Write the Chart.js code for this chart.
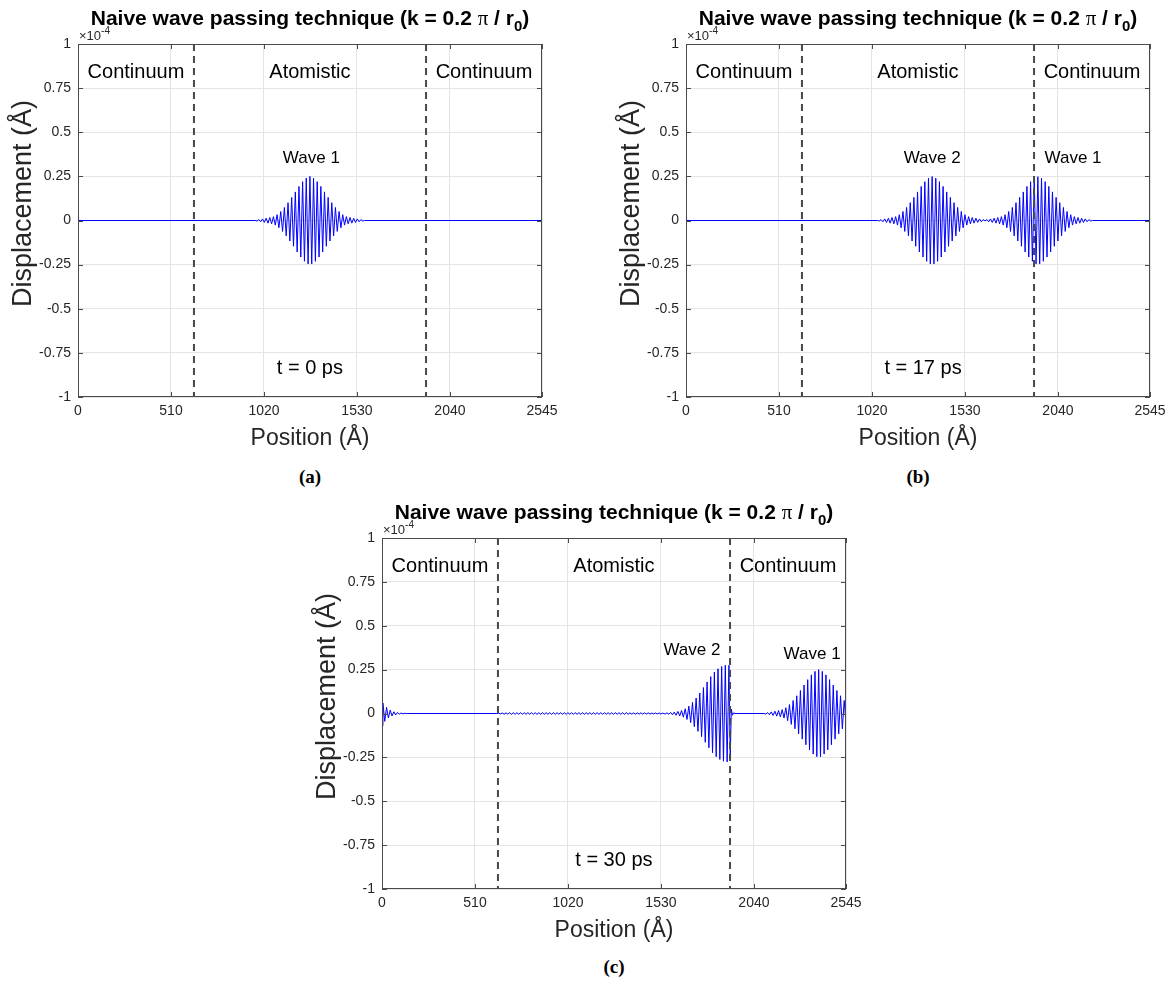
<!DOCTYPE html>
<html>
<head>
<meta charset="utf-8">
<script src="https://cdn.jsdelivr.net/npm/chart.js@4.4.0/dist/chart.umd.min.js"></script>
<style>
  body { margin: 0; background: #fff; width: 1172px; height: 988px; overflow: hidden; position: relative; }
  .panel { position: absolute; }
  .cap { position: absolute; width: 60px; text-align: center; font: bold 19px "Liberation Serif", "DejaVu Serif", serif; color: #000; }
</style>
</head>
<body>
<div class="panel" style="left:0;top:0"><canvas id="chartA" width="570" height="457"></canvas></div>
<div class="panel" style="left:608px;top:0"><canvas id="chartB" width="564" height="457"></canvas></div>
<div class="panel" style="left:304px;top:494px"><canvas id="chartC" width="570" height="455"></canvas></div>
<div class="cap" style="left:280px;top:466px">(a)</div>
<div class="cap" style="left:888px;top:466px">(b)</div>
<div class="cap" style="left:584px;top:956px">(c)</div>
<script>
// axis ticks
const xTicks = [0, 510, 1020, 1530, 2040, 2545];
const yTicks = [-1, -0.75, -0.5, -0.25, 0, 0.25, 0.5, 0.75, 1];
// continuum / atomistic interfaces (Å)
const interfaces = [636, 1909];

// (a) t = 0 ps, displacement in 1e-4 Å
const posA = [0, 972,
  982, 992, 1002, 1012, 1022, 1032, 1042, 1052, 1062, 1072, 1082, 1092, 1102, 1112, 1122, 1132, 1142, 1152, 1162, 1172,
  1182, 1192, 1202, 1212, 1222, 1232, 1242, 1252, 1262, 1272, 1282, 1292, 1302, 1312, 1322, 1332, 1342, 1352, 1362, 1372,
  1382, 1392, 1402, 1412, 1422, 1432, 1442, 1452, 1462, 1472, 1482, 1492, 1502, 1512, 1522, 1532, 1542, 1552, 1562,
  1572, 2545];
const dispA = [0, 0,
  -0.003, 0.005, -0.007, 0.009, -0.011, 0.013, -0.015, 0.017, -0.019, 0.022, -0.026, 0.033, -0.041, 0.051, -0.062, 0.074, -0.087, 0.101, -0.116, 0.131,
  -0.146, 0.162, -0.178, 0.193, -0.207, 0.22, -0.231, 0.24, -0.246, 0.25, -0.246, 0.24, -0.231, 0.22, -0.207, 0.193, -0.178, 0.162, -0.146, 0.131,
  -0.116, 0.101, -0.087, 0.074, -0.062, 0.051, -0.041, 0.033, -0.026, 0.022, -0.019, 0.017, -0.015, 0.013, -0.011, 0.009, -0.007, 0.005, -0.003,
  0, 0];

// (b) t = 17 ps
const posB = [0, 1050,
  1060, 1070, 1080, 1090, 1100, 1110, 1120, 1130, 1140, 1150, 1160, 1170, 1180, 1190, 1200, 1210, 1220, 1230, 1240, 1250,
  1260, 1270, 1280, 1290, 1300, 1310, 1320, 1330, 1340, 1350, 1360, 1370, 1380, 1390, 1400, 1410, 1420, 1430, 1440, 1450,
  1460, 1470, 1480, 1490, 1500, 1510, 1520, 1530, 1540, 1550, 1560, 1570, 1580, 1590, 1600, 1610, 1620, 1630,
  1640, 1650, 1660, 1670, 1680, 1690, 1700, 1710, 1720, 1730, 1740, 1750, 1760, 1770, 1780, 1790, 1800, 1810, 1820, 1830,
  1840, 1850, 1860, 1870, 1880, 1890, 1900, 1910, 1920, 1930, 1940, 1950, 1960, 1970, 1980, 1990, 2000, 2010, 2020, 2030,
  2040, 2050, 2060, 2070, 2080, 2090, 2100, 2110, 2120, 2130, 2140, 2150, 2160, 2170, 2180, 2190, 2200, 2210, 2220,
  2230, 2545];
const dispB = [0, 0,
  -0.003, 0.005, -0.007, 0.009, -0.011, 0.013, -0.015, 0.017, -0.019, 0.022, -0.026, 0.033, -0.041, 0.051, -0.062, 0.074, -0.087, 0.101, -0.116, 0.131,
  -0.146, 0.162, -0.178, 0.193, -0.207, 0.22, -0.231, 0.24, -0.246, 0.249, -0.246, 0.24, -0.231, 0.22, -0.207, 0.193, -0.178, 0.162, -0.146, 0.131,
  -0.116, 0.101, -0.087, 0.074, -0.062, 0.051, -0.041, 0.033, -0.026, 0.022, -0.019, 0.017, -0.015, 0.013, -0.011, 0.009, -0.007, 0.005,
  -0.003, 0.005, -0.007, 0.009, -0.011, 0.013, -0.015, 0.017, -0.019, 0.022, -0.026, 0.033, -0.041, 0.051, -0.062, 0.074, -0.087, 0.101, -0.116, 0.131,
  -0.146, 0.162, -0.178, 0.193, -0.207, 0.22, -0.231, 0.24, -0.246, 0.248, -0.246, 0.24, -0.231, 0.22, -0.207, 0.193, -0.178, 0.162, -0.146, 0.131,
  -0.116, 0.101, -0.087, 0.074, -0.062, 0.051, -0.041, 0.033, -0.026, 0.022, -0.019, 0.017, -0.015, 0.013, -0.011, 0.009, -0.007, 0.005, -0.003,
  0, 0];

// (c) t = 30 ps
const posC = [0, 5, 15, 25, 35, 45, 55, 65, 75, 85, 95, 105, 115, 125, 135,
  630,
  640, 650, 660, 670, 680, 690, 700, 710, 720, 730, 740, 750, 760, 770, 780, 790, 800, 810, 820, 830,
  840, 850, 860, 870, 880, 890, 900, 910, 920, 930, 940, 950, 960, 970, 980, 990, 1000, 1010, 1020, 1030,
  1040, 1050, 1060, 1070, 1080, 1090, 1100, 1110, 1120, 1130, 1140, 1150, 1160, 1170, 1180, 1190, 1200, 1210, 1220, 1230,
  1240, 1250, 1260, 1270, 1280, 1290, 1300, 1310, 1320, 1330, 1340, 1350, 1360, 1370, 1380, 1390, 1400, 1410, 1420, 1430,
  1440, 1450, 1460, 1470, 1480, 1490, 1500, 1510, 1520, 1530, 1540,
  1553, 1563, 1573, 1583, 1593, 1603, 1613, 1623, 1633, 1643, 1653, 1663, 1673, 1683, 1693, 1703, 1713, 1723,
  1733, 1743, 1753, 1763, 1773, 1783, 1793, 1803, 1813, 1823, 1833, 1843, 1853, 1863, 1873, 1883, 1893, 1903,
  1910, 1916, 1922, 1929, 1936, 2095,
  2105, 2115, 2125, 2135, 2145, 2155, 2165, 2175, 2185, 2195, 2205, 2215, 2225, 2235, 2245, 2255, 2265, 2275, 2285, 2295,
  2305, 2315, 2325, 2335, 2345, 2355, 2365, 2375, 2385, 2395, 2405, 2415, 2425, 2435, 2445, 2455, 2465, 2475, 2485, 2495,
  2505, 2515, 2525, 2535, 2545];
const dispC = [-0.07, 0.06, -0.045, 0.035, -0.026, 0.019, -0.014, 0.01, -0.008, 0.006, -0.004, 0.003, -0.002, 0.001, 0,
  0,
  0.002, -0.003, 0.003, -0.004, 0.004, -0.004, 0.005, -0.005, 0.005, -0.005, 0.005, -0.005, 0.005, -0.005, 0.005, -0.005, 0.005, -0.005, 0.005, -0.005,
  0.005, -0.005, 0.005, -0.005, 0.005, -0.005, 0.005, -0.005, 0.005, -0.005, 0.005, -0.005, 0.005, -0.005, 0.005, -0.005, 0.005, -0.005, 0.005, -0.005,
  0.005, -0.005, 0.005, -0.005, 0.005, -0.005, 0.005, -0.005, 0.005, -0.005, 0.005, -0.005, 0.005, -0.005, 0.005, -0.005, 0.005, -0.005, 0.005, -0.005,
  0.005, -0.005, 0.005, -0.005, 0.005, -0.005, 0.005, -0.005, 0.005, -0.005, 0.005, -0.005, 0.004, -0.004, 0.004, -0.004, 0.004, -0.004, 0.004, -0.004,
  0.004, -0.004, 0.004, -0.004, 0.003, -0.003, 0.003, -0.003, 0.003, -0.003, 0.002,
  -0.003, 0.004, -0.005, 0.006, -0.007, 0.008, -0.01, 0.012, -0.014, 0.017, -0.021, 0.027, -0.034, 0.042, -0.052, 0.063, -0.075, 0.088,
  -0.102, 0.117, -0.132, 0.148, -0.164, 0.18, -0.195, 0.21, -0.224, 0.236, -0.246, 0.255, -0.262, 0.268, -0.272, 0.275, -0.276, 0.275,
  -0.26, 0.025, -0.01, 0.004, 0, 0,
  -0.003, 0.005, -0.007, 0.009, -0.011, 0.013, -0.015, 0.017, -0.019, 0.022, -0.026, 0.033, -0.041, 0.051, -0.062, 0.074, -0.087, 0.101, -0.116, 0.131,
  -0.146, 0.162, -0.178, 0.193, -0.207, 0.22, -0.231, 0.24, -0.246, 0.25, -0.246, 0.24, -0.231, 0.22, -0.207, 0.193, -0.178, 0.162, -0.146, 0.131,
  -0.116, 0.101, -0.087, 0.074, -0.062];

const SANS = '"Liberation Sans", Arial, Helvetica, sans-serif';
const INK = '#262626';

// title, box, inward ticks, x10^-4, y label and region labels
const decor = {
  id: 'decor',
  afterDatasetsDraw(chart, args, opts) {
    const { ctx, chartArea: a, scales: { x, y } } = chart;
    ctx.save();
    ctx.strokeStyle = '#4a4a4a';
    ctx.lineWidth = 1;
    ctx.strokeRect(a.left + 0.5, a.top + 0.5, a.right - a.left - 1, a.bottom - a.top - 1);
    ctx.beginPath();
    xTicks.forEach(v => {
      const px = Math.round(x.getPixelForValue(v)) + 0.5;
      ctx.moveTo(px, a.bottom); ctx.lineTo(px, a.bottom - 5);
      ctx.moveTo(px, a.top); ctx.lineTo(px, a.top + 5);
    });
    yTicks.forEach(v => {
      const py = Math.round(y.getPixelForValue(v)) + 0.5;
      ctx.moveTo(a.left, py); ctx.lineTo(a.left + 5, py);
      ctx.moveTo(a.right, py); ctx.lineTo(a.right - 5, py);
    });
    ctx.stroke();

    // labels inside the axes
    ctx.fillStyle = '#000';
    ctx.textAlign = 'center';
    ctx.textBaseline = 'middle';
    opts.labels.forEach(l => {
      ctx.font = l.size + 'px ' + SANS;
      ctx.fillText(l.text, x.getPixelForValue(l.x), y.getPixelForValue(l.y));
    });

    // y axis label (sits a little above the axis centre, as in the original)
    ctx.save();
    ctx.fillStyle = INK;
    ctx.font = '27px ' + SANS;
    ctx.textBaseline = 'alphabetic';
    ctx.translate(a.left - 47, (a.top + a.bottom) / 2 - 17);
    ctx.rotate(-Math.PI / 2);
    ctx.fillText('Displacement (Å)', 0, 0);
    ctx.restore();

    // exponent
    ctx.fillStyle = INK;
    ctx.textAlign = 'left';
    ctx.textBaseline = 'alphabetic';
    ctx.font = '13px ' + SANS;
    ctx.fillText('\u00d710', a.left + 1, a.top - 4);
    const w10 = ctx.measureText('\u00d710').width;
    ctx.font = '10px ' + SANS;
    ctx.fillText('-4', a.left + 1 + w10, a.top - 10);

    // title
    const parts = [
      { t: 'Naive wave passing technique (k = 0.2 ', f: 'bold 21px ' + SANS, dy: 0 },
      { t: '\u03c0', f: '21px "Liberation Serif", serif', dy: 0 },
      { t: ' / r', f: 'bold 21px ' + SANS, dy: 0 },
      { t: '0', f: 'bold 15px ' + SANS, dy: 6 },
      { t: ')', f: 'bold 21px ' + SANS, dy: 0 }
    ];
    let total = 0;
    parts.forEach(p => { ctx.font = p.f; p.w = ctx.measureText(p.t).width; total += p.w; });
    let cx = (a.left + a.right) / 2 - total / 2;
    const base = a.top - 19;
    ctx.fillStyle = '#000';
    parts.forEach(p => { ctx.font = p.f; ctx.fillText(p.t, cx, base + p.dy); cx += p.w; });
    ctx.restore();
  }
};

function regionLabels(tLabel, tX, waves) {
  return [
    { text: 'Continuum', x: 318, y: 0.84, size: 20 },
    { text: 'Atomistic', x: 1272, y: 0.84, size: 20 },
    { text: 'Continuum', x: 2227, y: 0.84, size: 20 },
    { text: tLabel, x: tX, y: -0.84, size: 20 }
  ].concat(waves);
}

function makeChart(id, pos, disp, padRight, labels) {
  const pts = pos.map((p, i) => ({ x: p, y: disp[i] }));
  const lines = interfaces.map(v => ({
    data: [{ x: v, y: 1 }, { x: v, y: -1 }],
    borderColor: '#484848', borderWidth: 2, borderDash: [7, 5],
    pointRadius: 0, order: 0
  }));
  return new Chart(document.getElementById(id), {
    type: 'line',
    data: {
      datasets: [{
        data: pts, borderColor: '#0000ff', borderWidth: 1,
        pointRadius: 0, tension: 0, order: 1
      }].concat(lines)
    },
    options: {
      responsive: false,
      animation: false,
      events: [],
      layout: { padding: { top: 44, right: padRight, left: 0, bottom: 0 }, autoPadding: false },
      plugins: {
        legend: { display: false },
        tooltip: { enabled: false },
        decor: { labels: labels }
      },
      scales: {
        x: {
          type: 'linear', min: 0, max: 2545,
          afterBuildTicks: s => { s.ticks = xTicks.map(v => ({ value: v })); },
          afterFit: s => { s.height = 60; },
          grid: { color: '#e4e4e4', drawTicks: false },
          border: { display: false },
          ticks: { font: { family: SANS, size: 14 }, color: INK, padding: 6, maxRotation: 0, autoSkip: false,
                   callback: v => String(v) },
          title: { display: true, text: 'Position (Å)', color: INK,
                   font: { family: SANS, size: 23 }, padding: { top: 0, bottom: 5 } }
        },
        y: {
          type: 'linear', min: -1, max: 1,
          afterBuildTicks: s => { s.ticks = yTicks.map(v => ({ value: v })); },
          afterFit: s => { s.width = 78; },
          grid: { color: '#e4e4e4', drawTicks: false },
          border: { display: false },
          ticks: { font: { family: SANS, size: 14 }, color: INK, padding: 7, callback: v => String(v) },
          title: { display: false }
        }
      }
    },
    plugins: [decor]
  });
}

makeChart('chartA', posA, dispA, 28,
  regionLabels('t = 0 ps', 1272, [{ text: 'Wave 1', x: 1280, y: 0.35, size: 17 }]));
makeChart('chartB', posB, dispB, 22,
  regionLabels('t = 17 ps', 1300, [{ text: 'Wave 2', x: 1350, y: 0.35, size: 17 },
                                   { text: 'Wave 1', x: 2123, y: 0.35, size: 17 }]));
makeChart('chartC', posC, dispC, 28,
  regionLabels('t = 30 ps', 1272, [{ text: 'Wave 2', x: 1700, y: 0.36, size: 17 },
                                   { text: 'Wave 1', x: 2359, y: 0.34, size: 17 }]));
</script>
</body>
</html>
